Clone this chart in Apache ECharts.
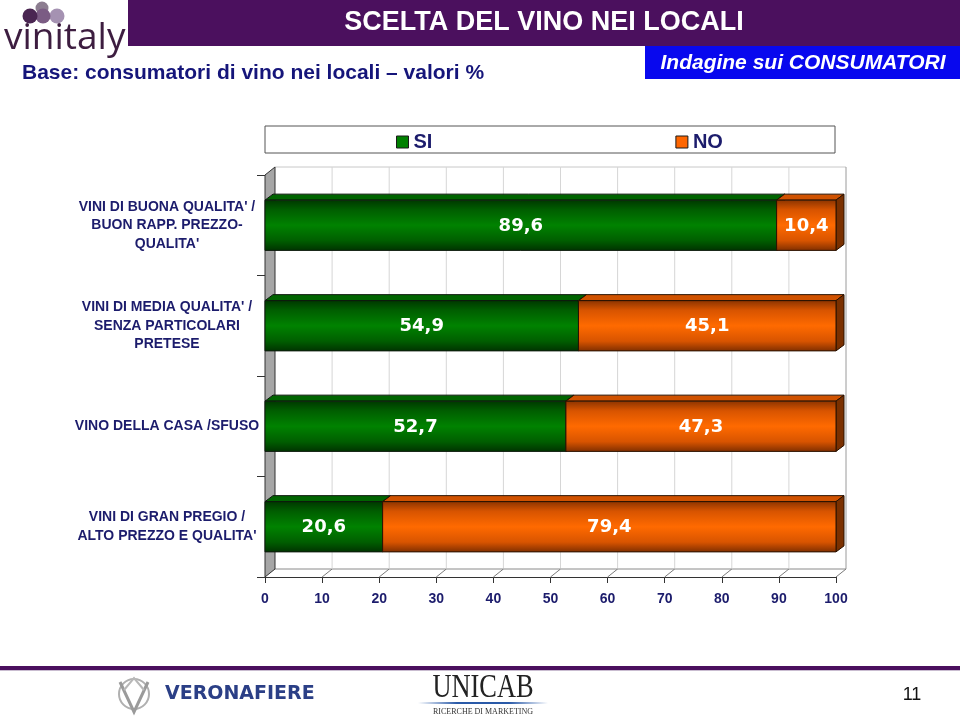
<!DOCTYPE html>
<html>
<head>
<meta charset="utf-8">
<script src="https://cdn.jsdelivr.net/npm/echarts@6/dist/echarts.min.js"></script>
<style>
html,body{margin:0;padding:0;background:#fff;}
#chart{width:960px;height:718px;}
</style>
</head>
<body>
<div id="chart"></div>
<script>
// ---- data ----
const categories = [
  "VINI DI BUONA QUALITA' /\nBUON RAPP. PREZZO-\nQUALITA'",
  "VINI DI MEDIA QUALITA' /\nSENZA PARTICOLARI\nPRETESE",
  "VINO DELLA CASA /SFUSO",
  "VINI DI GRAN PREGIO /\nALTO PREZZO E QUALITA'"
];
const seriesNames = ['SI', 'NO'];
const siValues = [89.6, 54.9, 52.7, 20.6];
const noValues = [10.4, 45.1, 47.3, 79.4];
const xTicks = [0, 10, 20, 30, 40, 50, 60, 70, 80, 90, 100];

const NAVY = '#1c1c6c';
const chart = echarts.init(document.getElementById('chart'));

function fmt(v) { return v.toFixed(1).replace('.', ','); }

function barRender(c) {
  return function (params, api) {
    const cat = api.value(0), s = api.value(1), e = api.value(2), v = api.value(3);
    const p0 = api.coord([s, cat]), p1 = api.coord([e, cat]);
    const bh = api.size([0, 1])[1] * 0.5;
    const yt = p0[1] - bh / 2, yb = p0[1] + bh / 2;
    const x0 = p0[0], x1 = p1[0];
    const dx = 8, dy = -6;
    return {
      type: 'group',
      children: [
        { type: 'polygon', shape: { points: [[x0, yt], [x0 + dx, yt + dy], [x1 + dx, yt + dy], [x1, yt]] },
          style: { fill: c.top, stroke: c.edge, lineWidth: 1 } },
        { type: 'polygon', shape: { points: [[x1, yt], [x1 + dx, yt + dy], [x1 + dx, yb + dy], [x1, yb]] },
          style: { fill: c.side, stroke: c.edge, lineWidth: 1 } },
        { type: 'rect', shape: { x: x0, y: yt, width: x1 - x0, height: bh },
          style: { fill: new echarts.graphic.LinearGradient(0, 0, 0, 1, c.front), stroke: c.edge, lineWidth: 1 } },
        { type: 'text', z2: 10, style: { text: fmt(v), x: (x0 + x1) / 2, y: p0[1] + 1, align: 'center', verticalAlign: 'middle',
          fill: '#ffffff', fontSize: 18, fontWeight: 'bold', fontFamily: '"DejaVu Sans", Verdana, sans-serif' } }
      ]
    };
  };
}

const greenStyle = {
  top: '#006400', side: '#003a00', edge: '#0d1a0d',
  front: [{ offset: 0, color: '#003600' }, { offset: 0.2, color: '#005e00' }, { offset: 0.5, color: '#008200' },
          { offset: 0.8, color: '#005e00' }, { offset: 1, color: '#003200' }]
};
const orangeStyle = {
  top: '#d05200', side: '#7a3000', edge: '#2a1200',
  front: [{ offset: 0, color: '#8a3300' }, { offset: 0.2, color: '#d85400' }, { offset: 0.5, color: '#ff6a00' },
          { offset: 0.8, color: '#d85400' }, { offset: 1, color: '#7e2e00' }]
};

const siData = siValues.map((v, i) => [i, 0, v, v]);
const noData = noValues.map((v, i) => [i, siValues[i], siValues[i] + v, v]);

function wallRender(params, api) {
  const cs = params.coordSys;
  const top = cs.y, bottom = cs.y + cs.height;
  const DX = 10, DY = -8;
  const x = api.coord([api.value(0), 0])[0];
  const children = [];
  if (params.dataIndex === 0) {
    const xl = api.coord([xTicks[0], 0])[0];
    const xr = api.coord([xTicks[xTicks.length - 1], 0])[0];
    children.push({ type: 'line', shape: { x1: xl + DX, y1: top + DY, x2: xr + DX, y2: top + DY }, style: { stroke: '#c8c8c8', lineWidth: 1 } });
    children.push({ type: 'line', shape: { x1: xl + DX, y1: bottom + DY, x2: xr + DX, y2: bottom + DY }, style: { stroke: '#8a8a8a', lineWidth: 1 } });
    children.push({ type: 'polygon', shape: { points: [[xl, top], [xl + DX, top + DY], [xl + DX, bottom + DY], [xl, bottom]] },
      style: { fill: '#a6a6a6', stroke: '#333333', lineWidth: 1 } });
  } else {
    children.push({ type: 'line', shape: { x1: x + DX, y1: top + DY, x2: x + DX, y2: bottom + DY },
      style: { stroke: params.dataIndex === xTicks.length - 1 ? '#9a9a9a' : '#d6d6d6', lineWidth: 1 } });
    children.push({ type: 'line', shape: { x1: x, y1: bottom, x2: x + DX, y2: bottom + DY }, style: { stroke: '#7a7a7a', lineWidth: 1 } });
  }
  return { type: 'group', children: children };
}

const option = {
  backgroundColor: '#ffffff',
  animation: false,
  textStyle: { fontFamily: '"Liberation Sans", Arial, sans-serif' },
  grid: { left: 265, right: 124, top: 175, bottom: 141, containLabel: false },
  legend: {
    left: 391, top: 127, itemWidth: 12, itemHeight: 12, itemGap: 243,
    data: [
      { name: seriesNames[0], icon: 'rect', itemStyle: { color: '#008000', borderColor: '#1a1a1a', borderWidth: 1 } },
      { name: seriesNames[1], icon: 'rect', itemStyle: { color: '#ff6600', borderColor: '#1a1a1a', borderWidth: 1 } }
    ],
    textStyle: { color: NAVY, fontSize: 20, fontWeight: 'bold', fontFamily: '"Liberation Sans", Arial, sans-serif', padding: [0, 0, 0, 0] },
    selectedMode: false, z: 20
  },
  xAxis: {
    type: 'value', min: 0, max: 100, interval: 10,
    axisLine: { show: true, lineStyle: { color: '#333333', width: 1 } },
    axisTick: { show: true, length: 6, lineStyle: { color: '#333333' } },
    splitLine: { show: false },
    axisLabel: { margin: 15, color: NAVY, fontSize: 14, fontWeight: 'bold', fontFamily: '"Liberation Sans", Arial, sans-serif' }
  },
  yAxis: {
    type: 'category', data: categories, inverse: true,
    axisLine: { show: true, lineStyle: { color: '#333333' } },
    axisTick: { show: true, length: 8, lineStyle: { color: '#333333' } },
    axisLabel: { align: 'center', margin: 98, color: NAVY, fontSize: 14, fontWeight: 'bold', lineHeight: 18.5,
      fontFamily: '"Liberation Sans", Arial, sans-serif' }
  },
  graphic: [
    // header
    { type: 'rect', shape: { x: 128, y: 0, width: 832, height: 46 }, style: { fill: '#4b105e' }, z: 0 },
    { type: 'text', style: { text: 'SCELTA DEL VINO NEI LOCALI', x: 544, y: 23, align: 'center', verticalAlign: 'middle',
      fill: '#ffffff', fontSize: 27, fontWeight: 'bold', fontFamily: '"Liberation Sans", Arial, sans-serif' } },
    { type: 'rect', shape: { x: 645, y: 46, width: 315, height: 33 }, style: { fill: '#0808ee' } },
    { type: 'text', style: { text: 'Indagine sui CONSUMATORI', x: 803, y: 63, align: 'center', verticalAlign: 'middle',
      fill: '#ffffff', fontSize: 21, fontWeight: 'bold', fontStyle: 'italic', fontFamily: '"Liberation Sans", Arial, sans-serif' } },
    { type: 'text', style: { text: 'Base: consumatori di vino nei locali \u2013 valori %', x: 22, y: 73, align: 'left', verticalAlign: 'middle',
      fill: '#15157a', fontSize: 21, fontWeight: 'bold', fontFamily: '"Liberation Sans", Arial, sans-serif' } },
    // vinitaly logo
    { type: 'circle', shape: { cx: 42, cy: 8, r: 6.5 }, style: { fill: '#8c7d90' } },
    { type: 'circle', shape: { cx: 57, cy: 16, r: 7.5 }, style: { fill: '#a592b2' } },
    { type: 'circle', shape: { cx: 43, cy: 16, r: 7.5 }, style: { fill: '#7b5c84' } },
    { type: 'circle', shape: { cx: 30, cy: 16, r: 7.5 }, style: { fill: '#4a2652' } },
    { type: 'text', style: { text: 'vinitaly', x: 4, y: 38, align: 'left', verticalAlign: 'middle',
      fill: '#3d1d40', fontSize: 37, fontFamily: '"Open Sans", "Noto Sans", sans-serif' } },
    // legend box
    { type: 'rect', shape: { x: 265, y: 126, width: 570, height: 27 }, style: { fill: '#ffffff', stroke: '#555555', lineWidth: 1 }, z: 1 },
    // footer
    { type: 'rect', shape: { x: 0, y: 666, width: 960, height: 4 }, style: { fill: '#4b105e' } },
    { type: 'rect', shape: { x: 0, y: 670, width: 960, height: 1 }, style: { fill: '#c9bcd0' } },
    { type: 'circle', shape: { cx: 134, cy: 694, r: 15 }, style: { fill: 'none', stroke: '#b0b0b0', lineWidth: 2 } },
    { type: 'polyline', shape: { points: [[120, 682], [134, 712], [148, 682]] }, style: { fill: 'none', stroke: '#9a9a9a', lineWidth: 3 } },
    { type: 'polyline', shape: { points: [[124, 690], [134, 678], [144, 690]] }, style: { fill: 'none', stroke: '#b8b8b8', lineWidth: 2 } },
    { type: 'text', style: { text: 'VERONAFIERE', x: 165, y: 694, align: 'left', verticalAlign: 'middle',
      fill: '#2b3f86', fontSize: 19, fontWeight: 'bold', fontFamily: '"DejaVu Sans", sans-serif' } },
    { type: 'text', x: 483, y: 688, scaleX: 0.8, style: { text: 'UNICAB', x: 0, y: 0, align: 'center', verticalAlign: 'middle',
      fill: '#222222', fontSize: 33, fontFamily: '"Liberation Serif", "Times New Roman", serif' } },
    { type: 'rect', shape: { x: 418, y: 702, width: 130, height: 2 },
      style: { fill: new echarts.graphic.LinearGradient(0, 0, 1, 0, [{ offset: 0, color: 'rgba(40,90,170,0)' }, { offset: 0.3, color: '#2a5aa8' }, { offset: 0.7, color: '#2a5aa8' }, { offset: 1, color: 'rgba(40,90,170,0)' }]) } },
    { type: 'text', style: { text: 'RICERCHE DI MARKETING', x: 483, y: 712, align: 'center', verticalAlign: 'middle',
      fill: '#333333', fontSize: 8, fontFamily: '"Liberation Serif", serif' } },
    { type: 'text', style: { text: '11', x: 912, y: 695, align: 'center', verticalAlign: 'middle',
      fill: '#111111', fontSize: 18, fontFamily: '"Liberation Sans", Arial, sans-serif' } }
  ],
  series: [
    { type: 'custom', name: '_walls', renderItem: wallRender, data: xTicks.map(v => [v, 0]),
      encode: { x: 0, y: 1 }, z: 1, silent: true, clip: false },
    { type: 'custom', name: seriesNames[0], renderItem: barRender(greenStyle), data: siData,
      encode: { x: [1, 2], y: 0 }, itemStyle: { color: '#008000' }, z: 3, clip: false },
    { type: 'custom', name: seriesNames[1], renderItem: barRender(orangeStyle), data: noData,
      encode: { x: [1, 2], y: 0 }, itemStyle: { color: '#ff6600' }, z: 3, clip: false }
  ]
};
chart.setOption(option);
</script>
</body>
</html>
